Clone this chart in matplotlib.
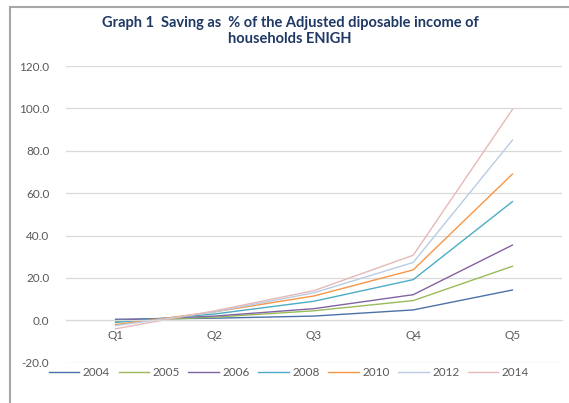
import matplotlib.pyplot as plt
from matplotlib.lines import Line2D
import numpy as np

plt.rcParams['font.family'] = ['Lato', 'DejaVu Sans']

quintiles = ["Q1", "Q2", "Q3", "Q4", "Q5"]
years = ["2004", "2005", "2006", "2008", "2010", "2012", "2014"]

s2004 = [0.5, 1.0, 2.0, 4.9, 14.3]
s2005 = [-0.5, 1.5, 4.5, 9.3, 25.5]
s2006 = [0.0, 2.0, 5.5, 12.1, 35.5]
s2008 = [-1.0, 3.0, 9.0, 19.2, 56.0]
s2010 = [-2.0, 4.0, 11.5, 23.8, 69.0]
s2012 = [-2.5, 4.0, 13.0, 27.3, 85.0]
s2014 = [-4.0, 4.5, 14.0, 30.7, 99.5]
series = [s2004, s2005, s2006, s2008, s2010, s2012, s2014]

colors = ["#4a72a8", "#9bbb59", "#8064a2", "#4bacc6", "#f79646", "#b8cce4", "#e6b9b8"]

fig = plt.figure(figsize=(5.69, 4.03), dpi=100)
ax = fig.add_axes([66/569, 40.3/403, 496/569, (362.7-66)/403])

x = np.arange(len(quintiles))
for yr, vals, c in zip(years, series, colors):
    ax.plot(x, vals, color=c, lw=1.0, label=yr)

ax.set_xlim(-0.5, 4.5)
ax.set_ylim(-20, 120)
ax.set_yticks(np.arange(-20, 121, 20))
ax.set_yticklabels([f"{v:.1f}" for v in np.arange(-20, 121, 20)])
ax.grid(axis='y', color='#d9d9d9', lw=0.9)
ax.set_axisbelow(True)
for s in ['top', 'right', 'left']:
    ax.spines[s].set_visible(False)
ax.spines['bottom'].set_position(('data', 0))
ax.spines['bottom'].set_color('#d9d9d9')
ax.set_xticks(x)
ax.set_xticklabels(quintiles)
ax.tick_params(axis='both', length=0, labelsize=8.5, colors='#595959')
ax.tick_params(axis='y', pad=12)
ax.tick_params(axis='x', pad=7)

fig.text(0.51, 1 - 16/403, "Graph 1  Saving as  % of the Adjusted diposable income of\nhouseholds ENIGH",
         ha='center', va='top', fontsize=10.5, fontweight='bold', color='#1f3864',
         linespacing=1.2)

ax.legend(loc='center', bbox_to_anchor=(289/569, 1 - 373/403), bbox_transform=fig.transFigure,
          ncol=7, frameon=False, fontsize=8.5, handlelength=2.6, columnspacing=0.7,
          handletextpad=0.3, labelcolor='#595959')

fig.add_artist(Line2D([10/569, 10/569], [0, 1 - 7/403], color='#a6a6a6', lw=1.5,
                      transform=fig.transFigure))
fig.add_artist(Line2D([10/569, 1], [1 - 7/403, 1 - 7/403], color='#a6a6a6', lw=1.5,
                      transform=fig.transFigure))

fig.savefig("out.png", dpi=100)
